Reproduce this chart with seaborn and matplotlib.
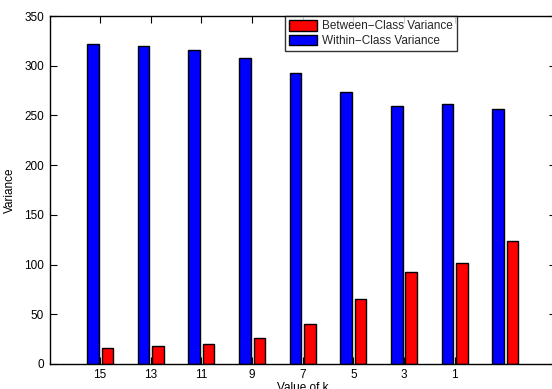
import matplotlib
matplotlib.use("Agg")
import matplotlib.pyplot as plt
from matplotlib.patches import Patch
import seaborn as sns
import pandas as pd

# values of k (last group has no label)
k_labels = ["15", "13", "11", "9", "7", "5", "3", "1", ""]
within_var = [322.1, 320.1, 315.8, 307.8, 292.7, 273.6, 259.2, 261.2, 256.2]
between_var = [16.4, 17.8, 20.0, 26.0, 40.2, 65.5, 92.2, 101.3, 124.0]
y_ticks = [0, 50, 100, 150, 200, 250, 300, 350]

series_names = ["Within-Class Variance", "Between-Class Variance"]
series_colors = {"Within-Class Variance": "#0000ff", "Between-Class Variance": "#ff0000"}

groups = [f"g{i}" for i in range(len(k_labels))]
df = pd.DataFrame({
    "group": groups * 2,
    "value": within_var + between_var,
    "series": [series_names[0]] * len(groups) + [series_names[1]] * len(groups),
})

sns.set_theme(style="white")
plt.rcParams["font.family"] = ["Liberation Sans", "DejaVu Sans"]

fig = plt.figure(figsize=(5.52, 3.89), dpi=100)
ax = fig.add_axes([49.5 / 552, 1 - 364 / 389, (556 - 49.5) / 552, (364 - 16) / 389])

sns.barplot(data=df, x="group", y="value", hue="series", order=groups,
            hue_order=series_names, palette=series_colors, saturation=1,
            width=0.571, gap=0.2, edgecolor="black", linewidth=1.0,
            ax=ax, legend=False)

ax.set_xlim(-1, 9)
ax.set_ylim(0, 350)
ax.set_xticks(range(8))
ax.set_xticklabels(k_labels[:8])
ax.set_yticks(y_ticks)
ax.set_yticklabels([str(v) for v in y_ticks])

for side in ["left", "right", "top", "bottom"]:
    ax.spines[side].set_visible(True)
    ax.spines[side].set_color("black")
    ax.spines[side].set_linewidth(1.0)

ax.tick_params(axis="both", direction="in", length=5, width=0.8, color="black",
               labelsize=8.5, labelcolor="black", top=True, right=True,
               bottom=True, left=True, pad=4)
ax.tick_params(axis="x", pad=3.5)

ax.set_xlabel("Value of k", fontsize=8.5, color="black", labelpad=0.5)
ax.set_ylabel("Variance", fontsize=8.5, color="black", labelpad=6)

handles = [Patch(facecolor="#ff0000", edgecolor="black", linewidth=1.0, label="Between\u2212Class Variance"),
           Patch(facecolor="#0000ff", edgecolor="black", linewidth=1.0, label="Within\u2212Class Variance")]
leg = ax.legend(handles=handles, loc="upper left", bbox_to_anchor=((285 - 49.5) / (556 - 49.5), 1.0),
                fontsize=8.5, frameon=True, fancybox=False, borderaxespad=0,
                handlelength=2.4, handleheight=1.0, handletextpad=0.4, labelspacing=0.2,
                borderpad=0.35)
leg.set_zorder(10)
leg.get_frame().set_edgecolor("black")
leg.get_frame().set_linewidth(1.0)

fig.savefig("out.png", dpi=100)
